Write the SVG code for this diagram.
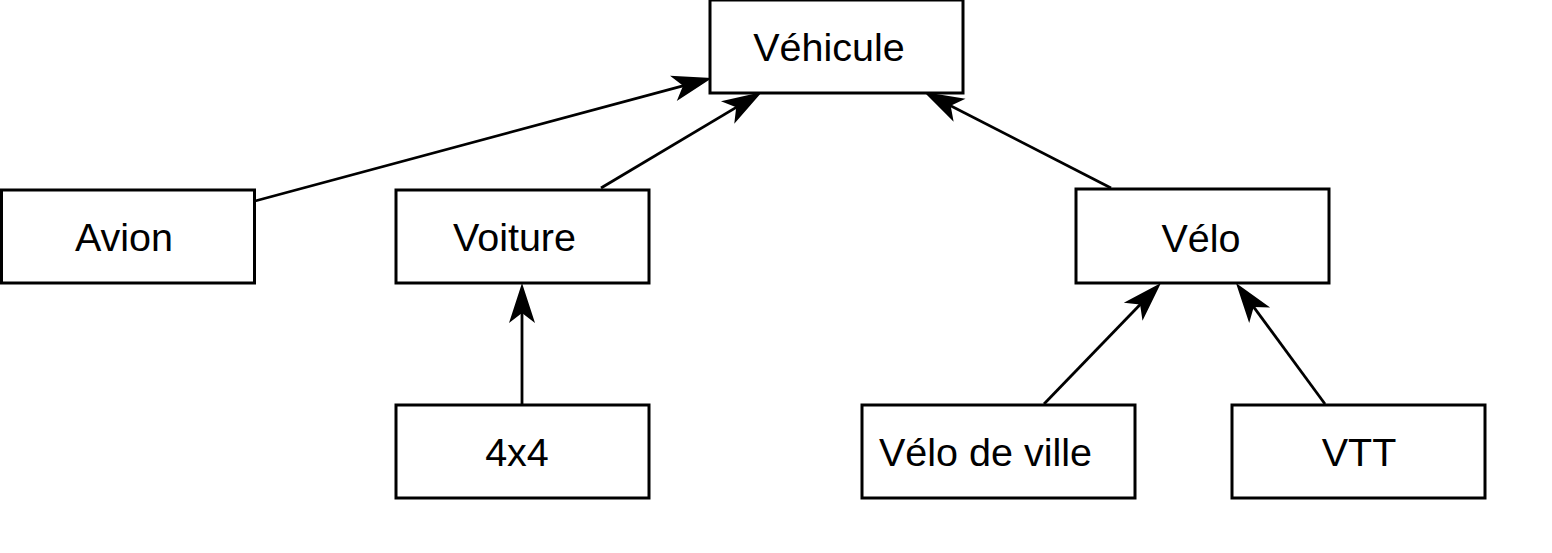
<svg xmlns="http://www.w3.org/2000/svg" width="1552" height="553" viewBox="0 0 1552 553">
<style>
.box{fill:#ffffff;stroke:#000000;stroke-width:3}
.lbl{font-family:"Liberation Sans",Arial,sans-serif;font-size:39.5px;fill:#000000;text-anchor:middle}
.edge{fill:none;stroke:#000000;stroke-width:2.8}
</style>
<defs>
<marker id="arr" markerUnits="userSpaceOnUse" markerWidth="44" markerHeight="30" refX="32" refY="13" orient="auto" overflow="visible">
<path d="M40,13 L0,0 L10,13 L0,26 Z" fill="#000000"/>
</marker>
</defs>
<rect width="1552" height="553" fill="#ffffff"/>
<g id="connectors">
<line class="edge" x1="255" y1="201" x2="704.3" y2="80.1" marker-end="url(#arr)"/>
<line class="edge" x1="601" y1="188" x2="755.1" y2="96.1" marker-end="url(#arr)"/>
<line class="edge" x1="1111" y1="188" x2="931.1" y2="95.7" marker-end="url(#arr)"/>
<line class="edge" x1="522" y1="404" x2="522" y2="291" marker-end="url(#arr)"/>
<line class="edge" x1="1044" y1="404" x2="1155.4" y2="288.8" marker-end="url(#arr)"/>
<line class="edge" x1="1325" y1="404" x2="1240.7" y2="289.4" marker-end="url(#arr)"/>
</g>
<g id="vehicule">
<rect class="box" x="710" y="0" width="253" height="93"/>
<text class="lbl" x="829" y="61">Véhicule</text>
</g>
<g id="avion">
<rect class="box" x="1.5" y="190" width="253" height="93"/>
<text class="lbl" x="124" y="251">Avion</text>
</g>
<g id="voiture">
<rect class="box" x="396" y="190" width="253" height="93"/>
<text class="lbl" x="514.5" y="251">Voiture</text>
</g>
<g id="velo">
<rect class="box" x="1076" y="189" width="253" height="94"/>
<text class="lbl" x="1201" y="252">Vélo</text>
</g>
<g id="q4x4">
<rect class="box" x="396" y="405" width="253" height="93"/>
<text class="lbl" x="517" y="466">4x4</text>
</g>
<g id="velo-de-ville">
<rect class="box" x="862" y="405" width="273" height="93"/>
<text class="lbl" x="985.5" y="466">Vélo de ville</text>
</g>
<g id="vtt">
<rect class="box" x="1232" y="405" width="253" height="93"/>
<text class="lbl" x="1359" y="466">VTT</text>
</g>
</svg>
